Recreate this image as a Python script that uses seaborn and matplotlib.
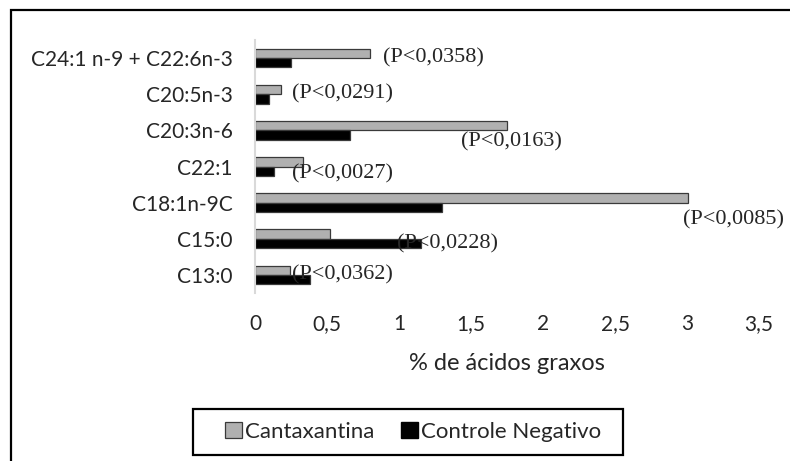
import matplotlib
matplotlib.use("Agg")
import matplotlib.pyplot as plt
import seaborn as sns
import pandas as pd
from matplotlib.patches import Rectangle

# ---- data ----
categories = ["C24:1 n-9 + C22:6n-3", "C20:5n-3", "C20:3n-6", "C22:1",
              "C18:1n-9C", "C15:0", "C13:0"]
cantaxantina = [0.80, 0.18, 1.75, 0.33, 3.01, 0.52, 0.24]
controle_negativo = [0.25, 0.095, 0.66, 0.13, 1.30, 1.15, 0.38]
series_names = ["Cantaxantina", "Controle Negativo"]
p_labels = ["(P<0,0358)", "(P<0,0291)", "(P<0,0163)", "(P<0,0027)",
            "(P<0,0085)", "(P<0,0228)", "(P<0,0362)"]
x_ticks = [0, 0.5, 1, 1.5, 2, 2.5, 3, 3.5]
x_tick_labels = ["0", "0,5", "1", "1,5", "2", "2,5", "3", "3,5"]
x_label = "% de ácidos graxos"

# annotation placement (layout only): x in data units, y offset in category units
p_label_x = [0.89, 0.26, 1.43, 0.26, 2.97, 0.985, 0.26]
p_label_dy = [0.0, 0.0, 0.33, 0.19, 0.47, 0.14, 0.0]

df = pd.DataFrame({
    "categoria": categories * 2,
    "valor": cantaxantina + controle_negativo,
    "serie": [series_names[0]] * len(categories) + [series_names[1]] * len(categories),
})

sns.set_theme(style="white")
plt.rcParams["font.family"] = ["Lato", "DejaVu Sans"]

fig = plt.figure(figsize=(7.9, 4.61), dpi=100)
ax = fig.add_axes([255 / 790, 1 - 293 / 461, 504 / 790, 253 / 461])

palette = {series_names[0]: "#b0b0b0", series_names[1]: "#000000"}
sns.barplot(data=df, y="categoria", x="valor", hue="serie", order=categories,
            hue_order=series_names, palette=palette, orient="h", width=0.52,
            ax=ax, saturation=1, legend=False)

for bar in ax.patches:
    bar.set_edgecolor("#3a3a3a")
    bar.set_linewidth(0.9)

ax.set_xlim(0, 3.5)
ax.set_ylim(len(categories) - 0.5, -0.5)
ax.set_xticks(x_ticks)
ax.set_xticklabels(x_tick_labels)
ax.tick_params(axis="x", length=0, pad=15, labelsize=15)
ax.tick_params(axis="y", length=0, pad=16, labelsize=15)
ax.set_ylabel("")
ax.set_xlabel(x_label, fontsize=17, labelpad=14)
for s in ["top", "right", "bottom"]:
    ax.spines[s].set_visible(False)
ax.spines["left"].set_color("#d9d9d9")
ax.spines["left"].set_linewidth(1.5)

for i, lab in enumerate(p_labels):
    ax.text(p_label_x[i], i + p_label_dy[i], lab, ha="left", va="center",
            fontsize=16, family=["Liberation Serif"], zorder=10)

# legend
handles = [Rectangle((0, 0), 1, 1, facecolor="#b0b0b0", edgecolor="#3a3a3a", linewidth=0.9),
           Rectangle((0, 0), 1, 1, facecolor="#000000", edgecolor="#000000")]
leg = fig.legend(handles, series_names, loc="center",
                 bbox_to_anchor=(413 / 790, 1 - 432 / 461), ncol=2,
                 frameon=False, fontsize=16,
                 handlelength=0.75, handleheight=0.7, handletextpad=0.15,
                 columnspacing=1.2, borderpad=0.3, borderaxespad=0)
fig.patches.append(Rectangle((193 / 790, 1 - 455 / 461), 430 / 790, 46 / 461,
                             transform=fig.transFigure, fill=False,
                             edgecolor="black", linewidth=1.6, zorder=1))

# outer chart border (extends beyond right/bottom edge)
fig.patches.append(Rectangle((11 / 790, -0.1), 1.2, 1 - 10 / 461 + 0.1,
                             transform=fig.transFigure, fill=False,
                             edgecolor="black", linewidth=1.6, zorder=0))

fig.savefig("out.png", dpi=100)
